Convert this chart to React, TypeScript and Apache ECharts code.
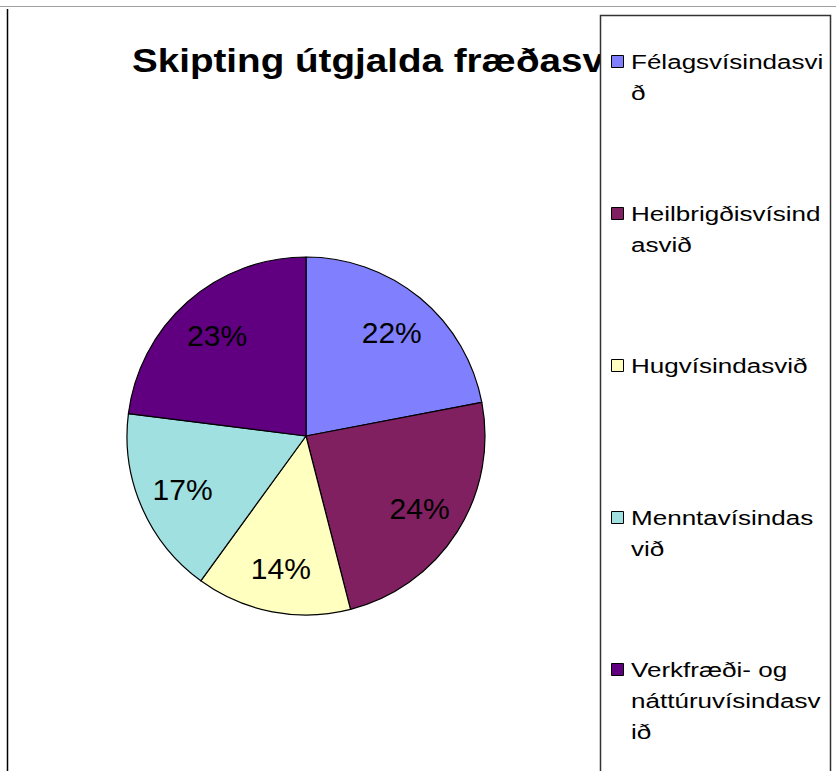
import React, { useEffect, useRef } from "react";
import * as echarts from "echarts";

const categories = [
  "Félagsvísindasvið",
  "Heilbrigðisvísindasvið",
  "Hugvísindasvið",
  "Menntavísindasvið",
  "Verkfræði- og náttúruvísindasvið",
];
const shares = [22, 24, 14, 17, 23];
const colors = ["#8080FF", "#802060", "#FFFFC0", "#A0E0E0", "#600080"];
const legendLines = [
  ["Félagsvísindasvi", "ð"],
  ["Heilbrigðisvísind", "asvið"],
  ["Hugvísindasvið"],
  ["Menntavísindas", "við"],
  ["Verkfræði- og", "náttúruvísindasv", "ið"],
];
const titleText = "Skipting útgjalda fræðasviða";

export default function App() {
  const ref = useRef<HTMLDivElement>(null);
  useEffect(() => {
    const chart = echarts.init(ref.current!, null, { renderer: "svg" });
    const data = categories.map((name, i) => ({
      name,
      value: shares[i],
      itemStyle: { color: colors[i] },
    }));
    const labelData = categories.map((name, i) => ({
      name,
      value: shares[i],
      itemStyle: { color: "rgba(0,0,0,0)" },
    }));

    const legendEls: any[] = [];
    categories.forEach((name, i) => {
      const y0 = 62 + i * 152;
      legendEls.push({
        type: "rect",
        z: 101,
        shape: { x: 611.5, y: y0 - 6.5, width: 12, height: 12 },
        style: { fill: colors[i], stroke: "#000", lineWidth: 1 },
      });
      legendLines[i].forEach((line, j) => {
        legendEls.push({
          type: "text",
          z: 101,
          x: 631,
          y: y0 + j * 31,
          scaleX: 1.24,
          style: {
            text: line,
            fontSize: 21,
            fontFamily: "Liberation Sans",
            fill: "#000",
            verticalAlign: "middle",
          },
        });
      });
    });

    chart.setOption({
      animation: false,
      backgroundColor: "#fff",
      graphic: [
        {
          type: "line",
          z: 10,
          shape: { x1: 0, y1: 6.5, x2: 836, y2: 6.5 },
          style: { stroke: "#a0a0a0", lineWidth: 1 },
        },
        {
          type: "line",
          z: 10,
          shape: { x1: 7.5, y1: 9, x2: 7.5, y2: 771 },
          style: { stroke: "#000", lineWidth: 1.5 },
        },
        {
          type: "text",
          z: 50,
          x: 132,
          y: 61,
          scaleX: 1.17,
          style: {
            text: titleText,
            fontSize: 33,
            fontWeight: "bold",
            fontFamily: "Liberation Sans",
            fill: "#000",
            verticalAlign: "middle",
          },
        },
        {
          type: "rect",
          z: 100,
          shape: { x: 600.5, y: 15.5, width: 230, height: 800 },
          style: { fill: "#fff", stroke: "#333", lineWidth: 1.5 },
        },
        ...legendEls,
      ],
      series: [
        {
          type: "pie",
          center: [306, 436],
          radius: 179,
          startAngle: 90,
          clockwise: true,
          label: { show: false },
          labelLine: { show: false },
          emphasis: { disabled: true },
          itemStyle: { borderColor: "#000", borderWidth: 1.2 },
          data,
        },
        {
          type: "pie",
          center: [306, 436],
          radius: [84, 179],
          startAngle: 90,
          clockwise: true,
          silent: true,
          z: 5,
          emphasis: { disabled: true },
          itemStyle: { borderWidth: 0 },
          labelLine: { show: false },
          label: {
            show: true,
            position: "inside",
            formatter: "{c}%",
            fontSize: 30,
            fontFamily: "Liberation Sans",
            color: "#000",
            textBorderWidth: 0,
          },
          data: labelData,
        },
      ],
    });
    return () => chart.dispose();
  }, []);
  return (
    <div
      ref={ref}
      style={{ position: "absolute", left: 0, top: 0, width: 836, height: 771 }}
    />
  );
}
